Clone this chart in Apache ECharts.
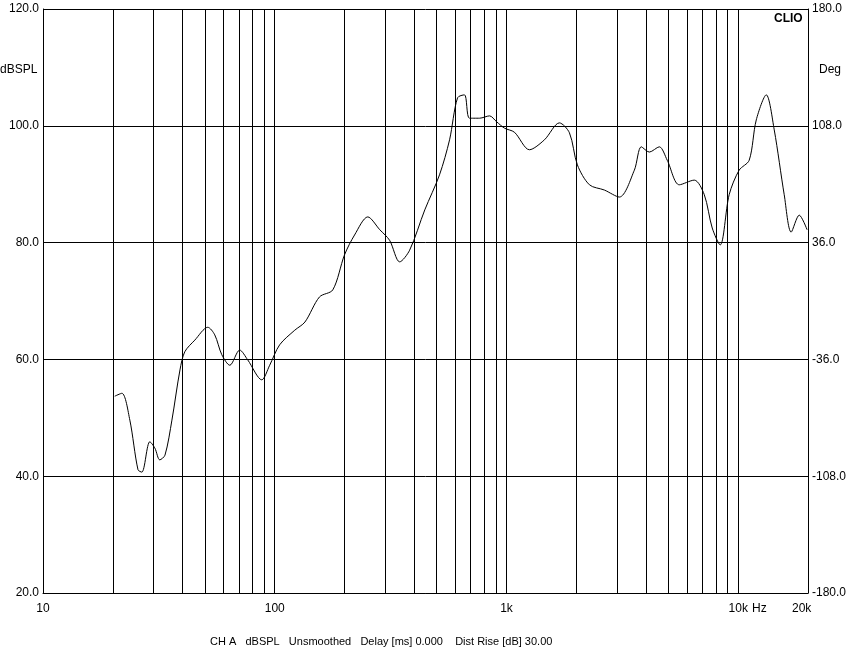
<!DOCTYPE html>
<html><head><meta charset="utf-8">
<script src="https://cdn.jsdelivr.net/npm/echarts@6/dist/echarts.min.js"></script>
<style>html,body{margin:0;background:#fff}#c{width:866px;height:661px}</style>
</head><body><div id="c"></div>
<script>
// frequency (Hz) and level (dBSPL)
const freqs = [20.4,21.9,23.7,25.7,26.7,28.9,30.4,31.9,33.6,36.0,39.0,40.9,45.2,51.4,55.1,59.1,64.0,70.6,76.5,87.9,95.1,105,122,135,156,178,200,221,252,284,313,346,382,444,514,568,615,659,692,765,845,906,980,1082,1256,1458,1691,1869,2023,2280,2645,3069,3562,3817,4132,4564,4939,5565,6461,7137,7722,8356,9138,10090,11150,11960,13210,14300,15790,16920,18330,19820]
const levels = [53.7,54.2,49.6,41.1,40.7,45.9,44.8,42.8,43.6,49.6,58.2,61.3,63.3,65.5,64.2,60.8,59.0,61.6,59.9,56.5,59.0,62.5,65.0,66.4,70.7,71.9,77.9,81.3,84.4,82.2,80.4,76.7,78.7,85.6,91.6,97.6,104.8,105.3,101.3,101.3,101.7,100.7,99.6,98.9,95.9,97.6,100.5,98.8,93.3,89.9,89.0,87.8,92.4,96.4,95.5,96.4,94.1,89.9,90.7,88.2,82.5,79.6,88.2,92.4,94.1,101.0,105.3,99.3,88.2,81.8,84.7,82.2]
const gridFreqs = [20,30,40,50,60,70,80,90,200,300,400,500,600,700,800,900,2000,3000,4000,5000,6000,7000,8000,9000]
const xLabels = {10:'10',100:'100',1000:'1k',10000:'10k'}

let chart = echarts.init(document.getElementById('c'))
const font = {fontFamily: 'Liberation Sans', fontSize: 12, color: '#000'}
chart.setOption({
    backgroundColor: '#fff',
    animation: false,
    grid: {left: 43, right: 58, top: 9, bottom: 68},
    xAxis: {
        type: 'log', min: 10, max: 20000, logBase: 10,
        axisLine: {onZero: false, lineStyle: {color: '#000'}},
        axisTick: {show: false},
        axisLabel: {...font, margin: 10, formatter: v => xLabels[v] || '', showMaxLabel: false},
        splitLine: {lineStyle: {color: '#000', width: 1}}
    },
    yAxis: [{
        type: 'value', min: 20, max: 120, interval: 20,
        axisLine: {show: true, lineStyle: {color: '#000'}},
        axisTick: {show: false},
        axisLabel: {...font, margin: 4, formatter: v => v.toFixed(1)},
        splitLine: {lineStyle: {color: '#000'}}
    }, {
        type: 'value', min: -180, max: 180, interval: 72,
        axisLine: {show: true, onZero: false, lineStyle: {color: '#000'}},
        axisTick: {show: false},
        axisLabel: {...font, margin: 4, formatter: v => v.toFixed(1)},
        splitLine: {show: false}
    }],
    series: [{
        type: 'line', smooth: 0.3, symbol: 'none',
        data: freqs.map((f, i) => [f, levels[i]]),
        lineStyle: {color: '#000', width: 1},
        markLine: {
            silent: true, symbol: 'none', label: {show: false},
            lineStyle: {color: '#000', type: 'solid', width: 1},
            data: gridFreqs.map(f => ({xAxis: f}))
        }
    }],
    graphic: [
        {type: 'text', left: 0, top: 64, style: {text: 'dBSPL', ...font, fill: '#000'}},
        {type: 'text', left: 819, top: 64, style: {text: 'Deg', ...font, fill: '#000'}},
        {type: 'text', left: 774, top: 13, style: {text: 'CLIO', fontFamily: 'Liberation Sans', fontSize: 12, fontWeight: 'bold', fill: '#000'}},
        {type: 'text', left: 752, top: 603, style: {text: 'Hz', ...font, fill: '#000'}},
        {type: 'text', left: 792, top: 603, style: {text: '20k', ...font, fill: '#000'}},
        {type: 'text', left: 210, top: 636, style: {text: 'CH A   dBSPL   Unsmoothed   Delay [ms] 0.000    Dist Rise [dB] 30.00', fontFamily: 'Liberation Sans', fontSize: 11, fill: '#000'}}
    ]
})
</script></body></html>
